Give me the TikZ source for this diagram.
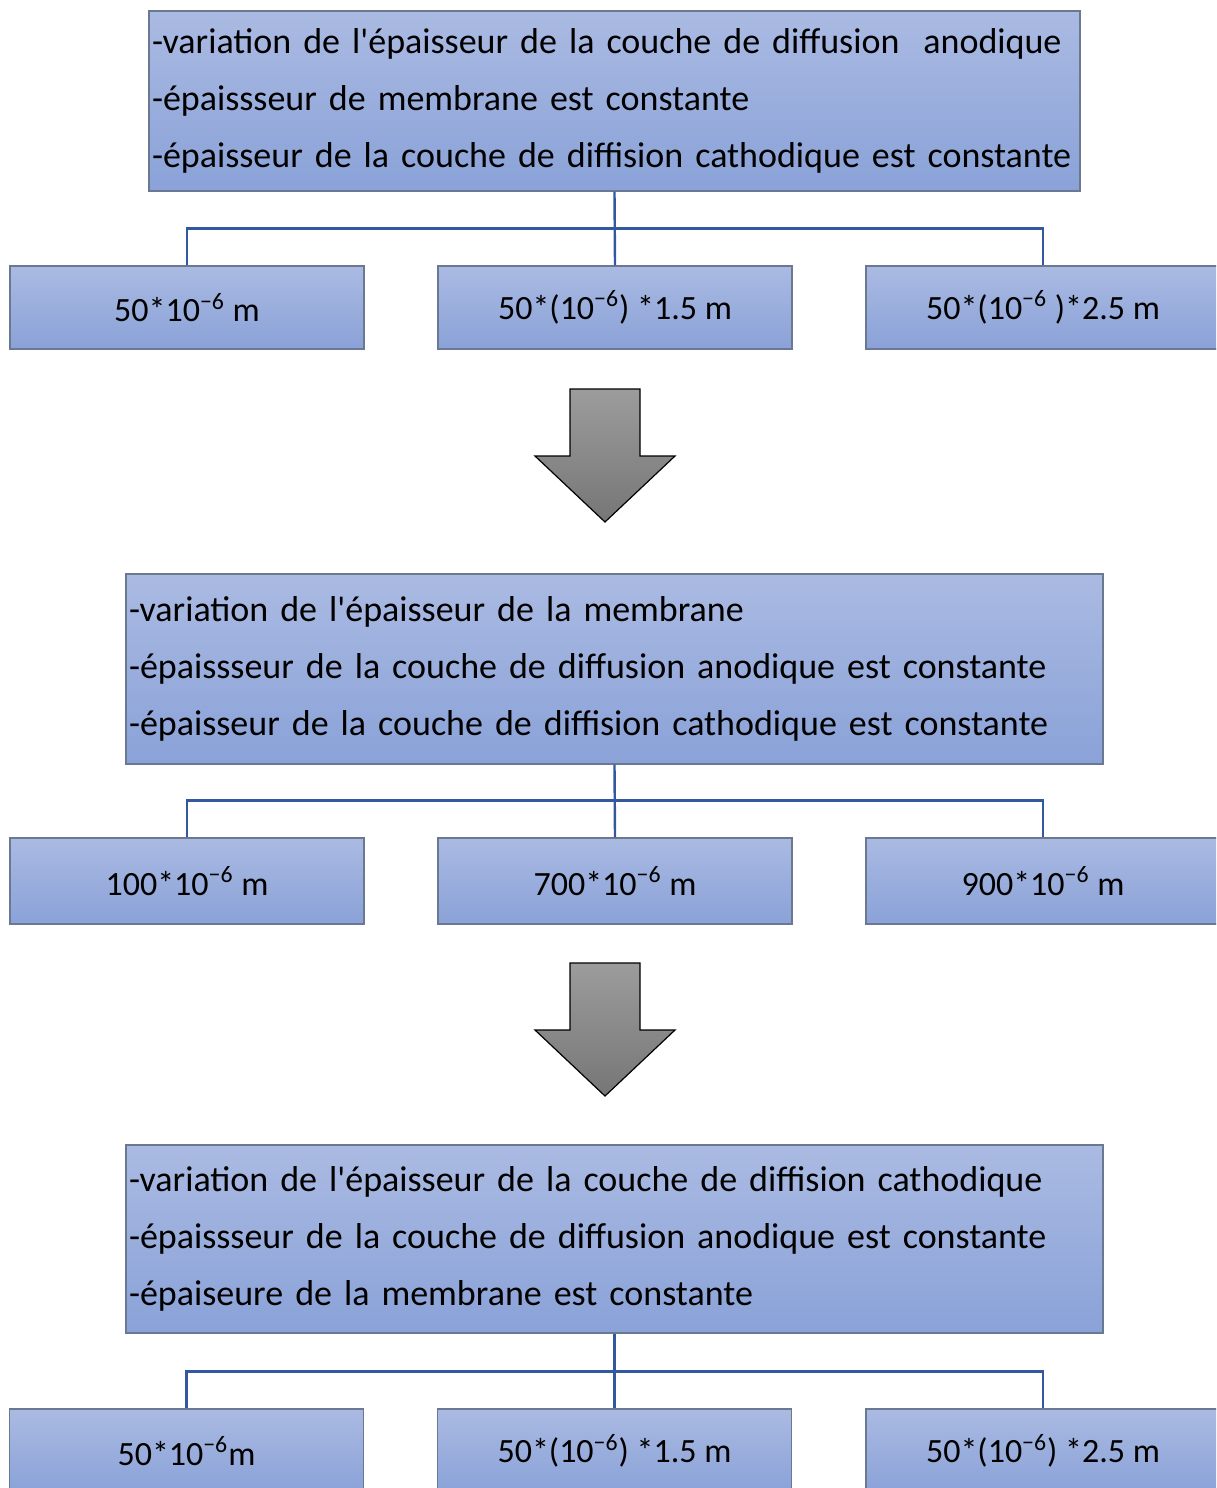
\documentclass[tikz,border=0pt]{standalone}
\usepackage{fontspec}
\setmainfont{Carlito}
\definecolor{boxtop}{HTML}{AABAE2}
\definecolor{boxbot}{HTML}{8AA2D8}
\definecolor{boxline}{HTML}{6A7891}
\definecolor{connc}{HTML}{3358A0}
\definecolor{arrtop}{HTML}{9C9C9C}
\definecolor{arrbot}{HTML}{767676}
\tikzset{
  bigbox/.style={draw=boxline, line width=0.6pt, top color=boxtop, bottom color=boxbot,
    rectangle, align=left, inner xsep=1.5pt, inner ysep=0pt,
    font=\fontsize{18}{28.5}\selectfont},
  valbox/.style={draw=boxline, line width=0.6pt, top color=boxtop, bottom color=boxbot,
    rectangle, inner sep=0pt, minimum width=177pt, font=\fontsize{17}{19}\selectfont},
  conn/.style={draw=connc, line width=1.2pt},
  bigarrow/.style={draw=black, line width=0.6pt, top color=arrtop, bottom color=arrbot},
}
\newcommand{\mexp}{10\textsuperscript{−6}}
\newcommand{\ap}{\textquotesingle}
\begin{document}
\begin{tikzpicture}[x=0.5pt,y=-0.5pt]
\useasboundingbox (0,0) rectangle (1216,1488);
\clip (0,0) rectangle (1216,1488);
% --- block 1
\node[bigbox, text width=462.5pt, minimum height=90pt] (b1) at (614.5,101)
  {-variation de l\ap épaisseur de la couche de diffusion\ \ anodique\\
   -épaissseur de membrane est constante\\
   -épaisseur de la couche de diffision cathodique est constante};
\node[valbox, minimum height=41.5pt] (b1l) at (187,307.5) {50*\mexp{} m};
\node[valbox, minimum height=41.5pt] (b1m) at (615,307.5) {50*(\mexp) *1.5 m};
\node[valbox, minimum height=41.5pt] (b1r) at (1043,307.5) {50*(\mexp\ )*2.5 m};
\draw[conn] (b1.south) -- (b1m.north);
\draw[conn] (b1l.north) -- ++(0,-37) -| (b1r.north);
% --- arrow 1
\draw[bigarrow] (570,389) -- (640,389) -- (640,456) -- (675,456) -- (605,522) -- (535,456) -- (570,456) -- cycle;
% --- block 2
\node[bigbox, text width=485.5pt, minimum height=95pt] (b2) at (614.5,669)
  {-variation de l\ap épaisseur de la membrane\\
   -épaissseur de la couche de diffusion anodique est constante\\
   -épaisseur de la couche de diffision cathodique est constante};
\node[valbox, minimum height=43pt] (b2l) at (187,881) {100*\mexp{} m};
\node[valbox, minimum height=43pt] (b2m) at (615,881) {700*\mexp{} m};
\node[valbox, minimum height=43pt] (b2r) at (1043,881) {900*\mexp{} m};
\draw[conn] (b2.south) -- (b2m.north);
\draw[conn] (b2l.north) -- ++(0,-37) -| (b2r.north);
% --- arrow 2
\draw[bigarrow] (570,963) -- (640,963) -- (640,1030) -- (675,1030) -- (605,1096) -- (535,1030) -- (570,1030) -- cycle;
% --- block 3
\node[bigbox, text width=485.5pt, minimum height=94pt] (b3) at (614.5,1239)
  {-variation de l\ap épaisseur de la couche de diffision cathodique\\
   -épaissseur de la couche de diffusion anodique est constante\\
   -épaiseure de la membrane est constante};
\node[valbox, minimum height=42pt] (b3l) at (186.5,1451) {50*\mexp m};
\node[valbox, minimum height=42pt] (b3m) at (614.5,1451) {50*(\mexp) *1.5 m};
\node[valbox, minimum height=42pt] (b3r) at (1043,1451) {50*(\mexp) *2.5 m};
\draw[conn] (b3.south) -- (b3m.north);
\draw[conn] (b3l.north) -- ++(0,-37) -| (b3r.north);
\end{tikzpicture}
\end{document}
